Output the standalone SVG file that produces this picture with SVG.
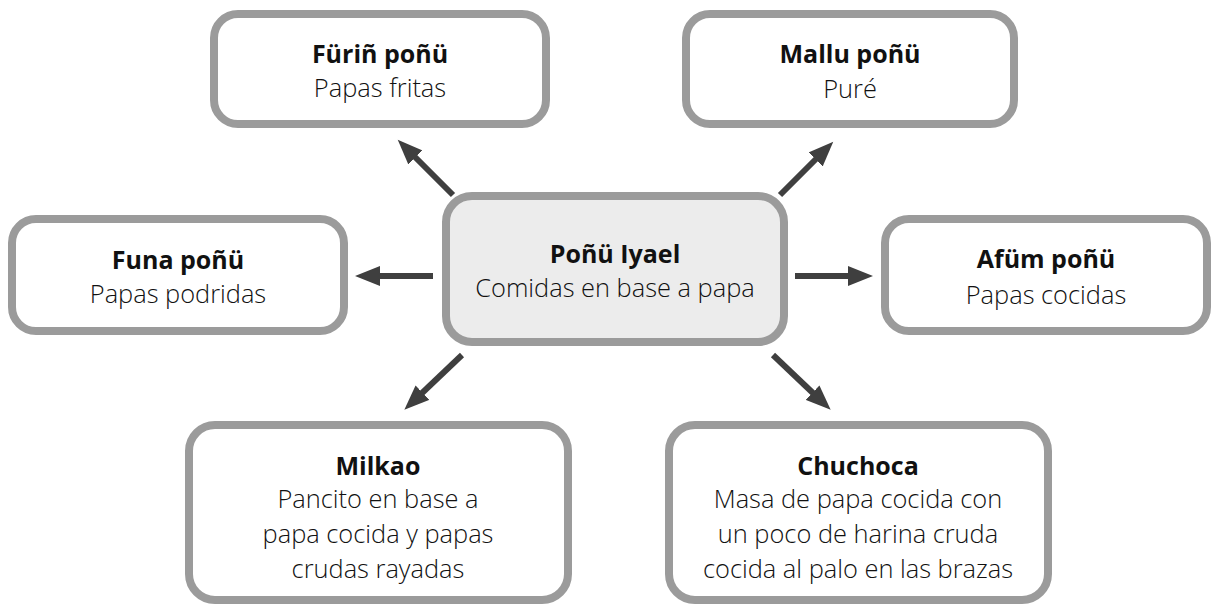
<svg xmlns="http://www.w3.org/2000/svg" width="1211" height="607" viewBox="0 0 1211 607">
  <style>
    .box { fill: #ffffff; stroke: #9b9b9b; stroke-width: 8; }
    .center { fill: #ececec; }
    .title { font-family: "Open Sans", "Noto Sans", "Liberation Sans", sans-serif; font-weight: 700; font-size: 25px; fill: #111111; text-anchor: middle; }
    .sub { font-family: "Open Sans", "Noto Sans", "Liberation Sans", sans-serif; font-weight: 300; font-size: 25.4px; fill: #111111; text-anchor: middle; }
    .conn { stroke: #3f3f3f; stroke-width: 6; fill: none; marker-end: url(#head); }
  </style>
  <defs>
    <marker id="head" markerUnits="userSpaceOnUse" markerWidth="26" markerHeight="20" refX="2" refY="10" orient="auto">
      <path d="M0,0 L25,10 L0,20 z" fill="#3f3f3f"/>
    </marker>
  </defs>
  <rect width="1211" height="607" fill="#ffffff"/>

  <g id="connectors">
    <line class="conn" x1="433" y1="276" x2="378" y2="276"/>
    <line class="conn" x1="795" y1="276" x2="850" y2="276"/>
    <line class="conn" x1="453" y1="195" x2="414" y2="156"/>
    <line class="conn" x1="780" y1="195" x2="817" y2="158"/>
    <line class="conn" x1="462" y1="355" x2="421" y2="394"/>
    <line class="conn" x1="773" y1="355" x2="814" y2="394"/>
  </g>

  <g id="node-center">
    <rect class="box center" x="446" y="196" width="338" height="146" rx="26"/>
    <text class="title" x="615" y="263">Poñü Iyael</text>
    <text class="sub" x="615" y="297">Comidas en base a papa</text>
  </g>

  <g id="node-furin">
    <rect class="box" x="214" y="14" width="332" height="110" rx="24"/>
    <text class="title" x="380" y="63">Füriñ poñü</text>
    <text class="sub" x="380" y="97">Papas fritas</text>
  </g>

  <g id="node-mallu">
    <rect class="box" x="686" y="14" width="328" height="110" rx="24"/>
    <text class="title" x="850" y="63">Mallu poñü</text>
    <text class="sub" x="850" y="98">Puré</text>
  </g>

  <g id="node-funa">
    <rect class="box" x="12" y="219" width="332" height="112" rx="24"/>
    <text class="title" x="178" y="269">Funa poñü</text>
    <text class="sub" x="178" y="303">Papas podridas</text>
  </g>

  <g id="node-afum">
    <rect class="box" x="885" y="219" width="322" height="112" rx="24"/>
    <text class="title" x="1046" y="268">Afüm poñü</text>
    <text class="sub" x="1046" y="304">Papas cocidas</text>
  </g>

  <g id="node-milkao">
    <rect class="box" x="189" y="425" width="379" height="175" rx="26"/>
    <text class="title" x="378" y="475">Milkao</text>
    <text class="sub" x="378" y="508">Pancito en base a</text>
    <text class="sub" x="378" y="543">papa cocida y papas</text>
    <text class="sub" x="378" y="578">crudas rayadas</text>
  </g>

  <g id="node-chuchoca">
    <rect class="box" x="669" y="425" width="379" height="175" rx="26"/>
    <text class="title" x="858" y="475">Chuchoca</text>
    <text class="sub" x="858" y="508">Masa de papa cocida con</text>
    <text class="sub" x="858" y="543">un poco de harina cruda</text>
    <text class="sub" x="858" y="578">cocida al palo en las brazas</text>
  </g>
</svg>
